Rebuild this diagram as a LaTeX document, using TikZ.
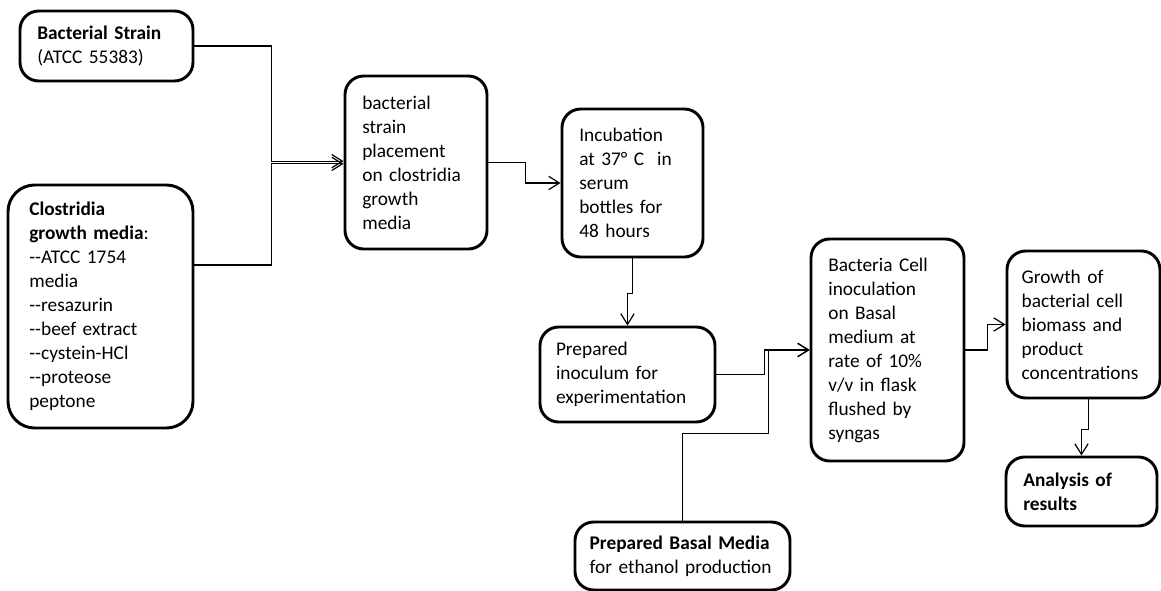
\documentclass[tikz,border=0pt]{standalone}
\usepackage{fontspec}
\setmainfont{Carlito}
\usetikzlibrary{arrows.meta}

\tikzset{
  stage/.style={draw, line width=2.2pt, rounded corners=14pt, align=left,
    inner xsep=13pt, inner ysep=0pt, font=\fontsize{14.5}{18}\selectfont},
  link/.style={line width=0.9pt, -{Straight Barb[length=8pt,width=10pt]}},
}

\begin{document}
\begin{tikzpicture}[x=0.75pt,y=-0.75pt]
    \useasboundingbox (0,0) rectangle (1161,591);
    % stages
    \node[stage, text width=103.75pt, minimum height=52.5pt] (strain) at (106.5,46)
        {\textbf{Bacterial Strain}\\(ATCC 55383)};
    \node[stage, rounded corners=20pt, inner xsep=16pt, text width=106.75pt, minimum height=182.25pt] (media) at (100.5,306.5)
        {\textbf{Clostridia}\\\textbf{growth media}:\\-{}-ATCC 1754\\media\\-{}-resazurin\\-{}-beef extract\\-{}-cystein-HCl\\-{}-proteose\\peptone};
    \node[stage, text width=80.5pt, minimum height=129.75pt] (place) at (416,162.5)
        {bacterial\\strain\\placement\\on clostridia\\growth\\media};
    \node[stage, text width=79.75pt, minimum height=111pt] (incub) at (632.5,183)
        {Incubation\\at 37° C\ \ in\\serum\\bottles for\\48 hours};
    \node[stage, inner xsep=12pt, text width=107.25pt, minimum height=71.25pt] (inoc) at (627.5,374.5)
        {Prepared\\inoculum for\\experimentation};
    \node[stage, text width=88.75pt, minimum height=166.5pt] (cell) at (887.5,350)
        {Bacteria Cell\\inoculation\\on Basal\\medium at\\rate of 10\%\\v/v in flask\\flushed by\\syngas};
    \node[stage, inner xsep=11pt, text width=92.75pt, minimum height=110.25pt] (growth) at (1083.5,324.5)
        {Growth of\\bacterial cell\\biomass and\\product\\concentrations};
    \node[stage, text width=87.25pt, minimum height=51.75pt] (anal) at (1081.5,491.5)
        {\textbf{Analysis of}\\\textbf{results}};
    \node[stage, inner xsep=11pt, text width=139.25pt, minimum height=51pt] (basal) at (682.5,556)
        {\textbf{Prepared Basal Media}\\for ethanol production};
    % connectors
    \coordinate (m0) at (0,265);
    \draw[link] (strain.east) -- ++(77,0) |- ([yshift=1pt]place.west);
    \draw[link] (media.east |- m0) -- ++(77,0) |- ([yshift=-1pt]place.west);
    \draw[link] (place.east) -- ++(37,0) |- (incub.west);
    \draw[link] (incub.south) -- ++(0,35) -| (inoc.north);
    \draw[link] (inoc.east) -- ++(48,0) |- (cell.west);
    \draw[link] (basal.north) |- ++(86,-87) |- (cell.west);
    \draw[link] (cell.east) -- ++(22,0) |- (growth.west);
    \draw[link] ([xshift=4pt]growth.south) -- ++(0,30) -| (anal.north);
\end{tikzpicture}
\end{document}
